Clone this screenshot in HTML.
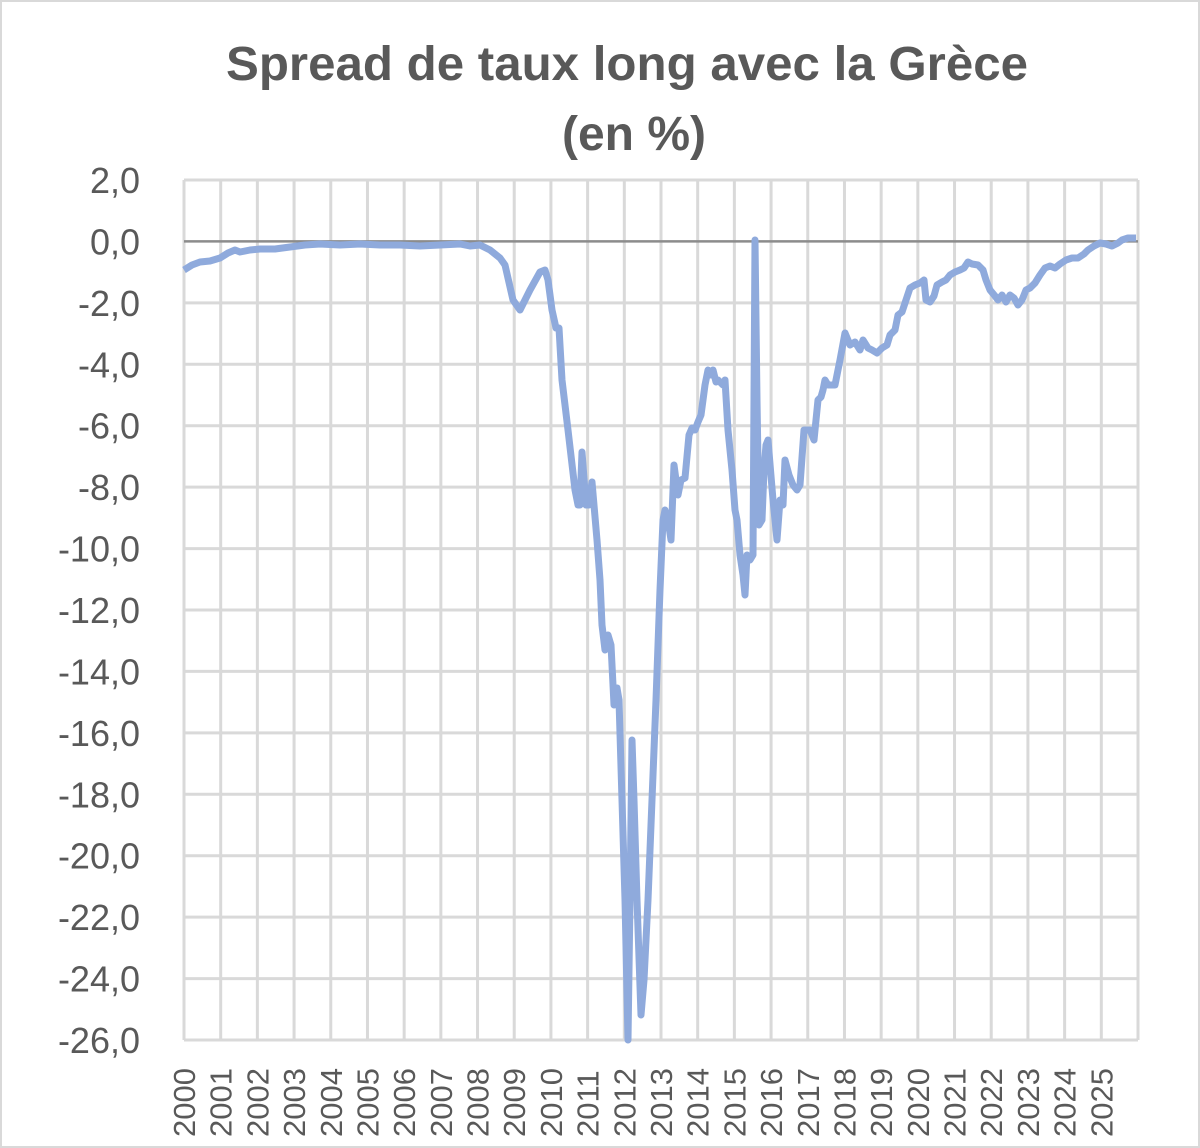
<!DOCTYPE html>
<html><head><meta charset="utf-8"><style>
body{margin:0;background:#fff}
svg{display:block}
text{font-family:"Liberation Sans",sans-serif;fill:#595959}
</style></head><body>
<svg width="1200" height="1148" viewBox="0 0 1200 1148">
<rect x="1" y="1" width="1198" height="1146" fill="#fff" stroke="#d9d9d9" stroke-width="2"/>
<text x="627" y="80" font-size="48" font-weight="bold" text-anchor="middle" textLength="802" lengthAdjust="spacingAndGlyphs">Spread de taux long avec la Grèce</text>
<text x="634" y="150" font-size="48" font-weight="bold" text-anchor="middle">(en %)</text>
<g stroke="#d9d9d9" stroke-width="3" id="grid"></g>
<g id="yl" font-size="36" text-anchor="end"></g>
<g id="xl" font-size="31"></g>
<line x1="184" y1="241.4" x2="1138" y2="241.4" stroke="#8c8c8c" stroke-width="2.5"/>
<polyline fill="none" stroke="#8faadc" stroke-width="7" stroke-linejoin="round" points="184,270 192,265 200,262 210,261 220,258 228,253 235,250 240,252 250,250 260,249 275,249 290,247 305,245 320,244 340,245 360,244 380,245 400,245 420,246 440,245 460,244 470,246 480,245 490,250 500,258 505,265 513,300 520,310 530,290 540,272 545,270 548,280 552,310 556,328 559,328 562,380 568,430 575,490 578,505 580,505 582,452 586,505 589,505 592,482 597,540 600,580 602,625 605,650 608,635 611,645 614,705 617,688 619,700 622,800 625,900 628,1040 630,900 632,740 634,800 637,900 641,1015 644,980 648,900 652,800 656,700 660,590 663,520 665,510 668,520 671,540 674,465 678,495 681,480 685,478 689,435 692,428 695,430 698,422 701,415 703,400 705,385 708,370 711,375 713,370 716,382 718,380 723,385 725,380 728,430 732,470 735,510 737,520 740,555 743,575 745,595 747,555 750,560 753,555 755,240 757,400 759,525 762,520 764,470 766,445 768,440 773,500 777,540 780,500 783,505 785,460 789,475 793,485 797,490 800,485 804,430 806,430 810,430 814,440 818,400 821,397 823,390 825,380 828,385 831,385 835,385 840,360 845,333 850,345 855,342 860,350 863,340 868,348 872,350 877,353 882,348 887,345 890,335 895,330 898,315 902,312 906,300 910,288 915,285 920,283 924,280 926,300 930,302 934,296 937,285 942,282 946,280 950,275 955,272 960,270 964,268 968,262 972,264 978,265 983,270 986,280 990,290 995,296 998,300 1002,295 1006,302 1010,295 1014,298 1018,305 1022,300 1026,290 1030,288 1035,283 1040,275 1045,268 1050,266 1055,268 1060,264 1066,260 1072,258 1078,258 1084,254 1088,250 1094,246 1100,243 1106,244 1112,246 1118,243 1122,240 1128,238 1136,238"/>
</svg>
<script>
const ns="http://www.w3.org/2000/svg";
const g=document.getElementById('grid'),yl=document.getElementById('yl'),xl=document.getElementById('xl');
function el(p,t,a,txt){const e=document.createElementNS(ns,t);for(const k in a)e.setAttribute(k,a[k]);if(txt)e.textContent=txt;p.appendChild(e);}
for(let i=0;i<=14;i++){const y=180+i*(860/14);const v=2-2*i;
 if(v!==0)el(g,'line',{x1:184,x2:1138,y1:y,y2:y});
 el(yl,'text',{x:140,y:y+13},(v<0?'-':'')+Math.abs(v).toFixed(1).replace('.',','));}
const sp=954/26;
for(let i=0;i<=26;i++){const x=184+i*sp;el(g,'line',{x1:x,x2:x,y1:180,y2:1040});
 if(i<26)el(xl,'text',{transform:`translate(${x+11},1137) rotate(-90)`},String(2000+i));}
</script>
</body></html>
